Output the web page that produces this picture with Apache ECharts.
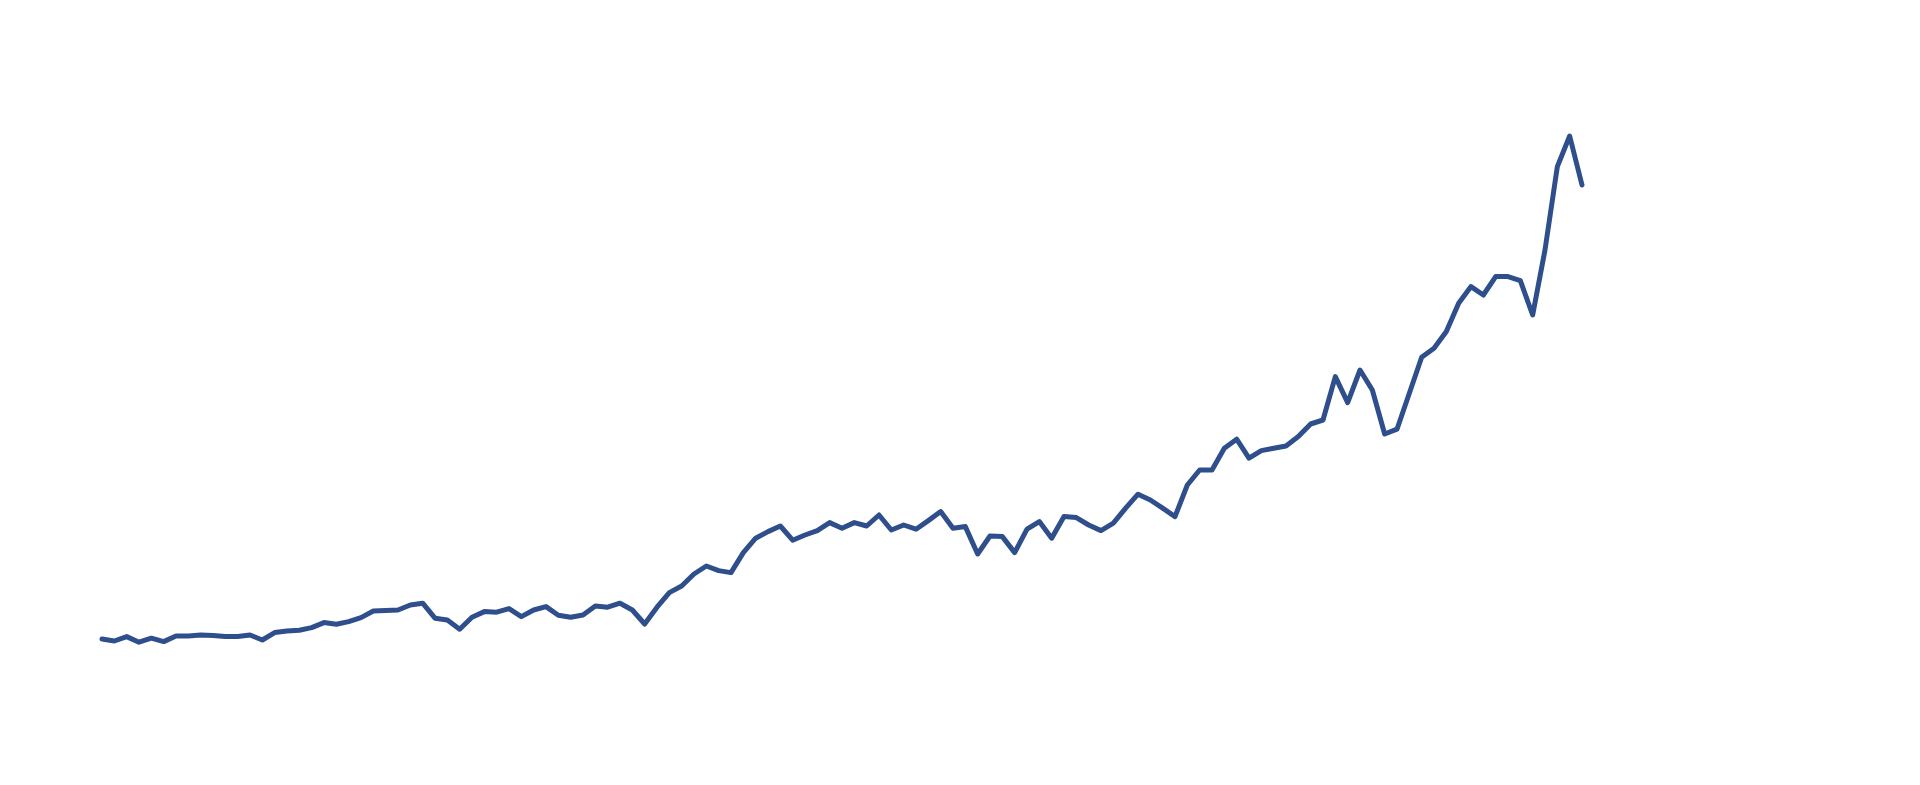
<!DOCTYPE html>
<html lang="en">
	<head>
		<meta charset="UTF-8">
		<title></title>
		<style type="text/css">
			html,
			body {
				width: 100%;
				height: 100%;
				margin: 0;
				padding: 0;
				background: #fff;
			}

			#main {
				width: 1920px;
				height: 785px;
			}
		</style>
	</head>
	<body>
		<div id="main"></div>

		<script src="https://cdn.jsdelivr.net/npm/echarts@6/dist/echarts.min.js" type="text/javascript" charset="utf-8"></script>
		<script type="text/javascript">
			// index level
			let values = [
				305, 295, 317, 289, 309, 292, 320, 320, 325, 322,
				317, 317, 325, 300, 337, 345, 349, 362, 387, 379,
				392, 412, 445, 447, 450, 475, 484, 409, 400, 354,
				414, 442, 439, 457, 417, 450, 467, 424, 414, 425,
				470, 464, 484, 450, 380, 464, 537, 570, 630, 670,
				647, 637, 737, 809, 842, 870, 799, 825, 847, 887,
				859, 887, 870, 925, 850, 875, 854, 897, 942, 859,
				867, 730, 820, 817, 737, 854, 892, 809, 917, 912,
				875, 847, 884, 959, 1029, 1000, 959, 917, 1075, 1150,
				1150, 1259, 1304, 1209, 1247, 1259, 1270, 1317, 1380, 1400,
				1617, 1487, 1650, 1550, 1330, 1354, 1534, 1714, 1759, 1842,
				1984, 2067, 2025, 2117, 2117, 2097, 1925, 2250, 2667, 2820,
				2575
			];

			// one category per point (monthly)
			let categories = [];
			for (let i = 0; i < values.length; i++) {
				let y = 2014 + Math.floor(i / 12);
				let m = (i % 12) + 1;
				categories.push(y + '-' + (m < 10 ? '0' + m : m));
			}

			var myChart = echarts.init(document.getElementById('main'));
			var option = {
				animation: false,
				grid: {
					top: 100,
					bottom: 85,
					left: 102,
					right: 338
				},
				xAxis: {
					type: 'category',
					boundaryGap: false,
					data: categories,
					show: false
				},
				yAxis: {
					type: 'value',
					min: 0,
					max: 3000,
					show: false
				},
				series: [{
					type: 'line',
					data: values,
					showSymbol: false,
					lineStyle: {
						color: '#2f4f8c',
						width: 5,
						cap: 'round',
						join: 'round'
					}
				}]
			};

			myChart.setOption(option);
		</script>
	</body>
</html>
